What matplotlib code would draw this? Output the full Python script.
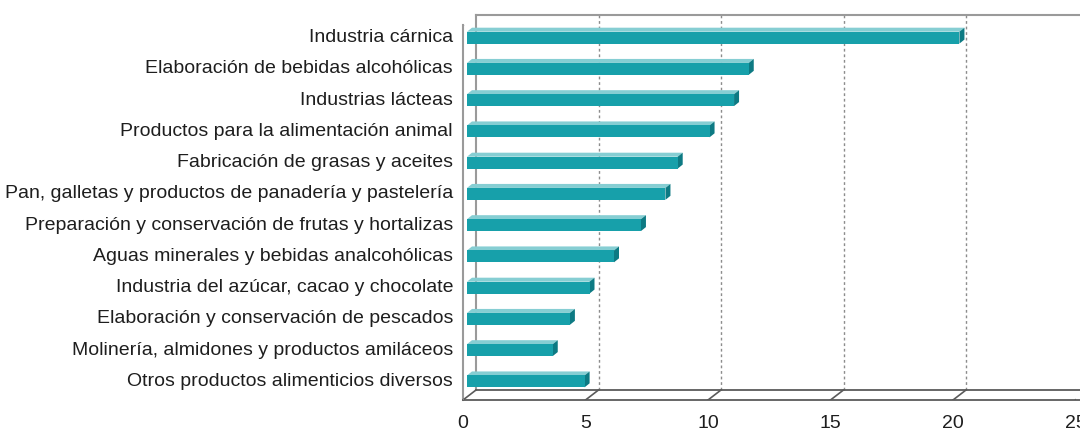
import matplotlib
matplotlib.use("Agg")
import matplotlib.pyplot as plt
from matplotlib.patches import Polygon
from matplotlib.transforms import offset_copy

plt.rcParams["font.family"] = ["Liberation Sans", "DejaVu Sans"]

# categories, top to bottom
categories = [
    "Industria cárnica",
    "Elaboración de bebidas alcohólicas",
    "Industrias lácteas",
    "Productos para la alimentación animal",
    "Fabricación de grasas y aceites",
    "Pan, galletas y productos de panadería y pastelería",
    "Preparación y conservación de frutas y hortalizas",
    "Aguas minerales y bebidas analcohólicas",
    "Industria del azúcar, cacao y chocolate",
    "Elaboración y conservación de pescados",
    "Molinería, almidones y productos amiláceos",
    "Otros productos alimenticios diversos",
]
values = [20.1, 11.5, 10.9, 9.9, 8.6, 8.1, 7.1, 6.0, 5.0, 4.2, 3.5, 4.8]
xticks = [0, 5, 10, 15, 20, 25]

# pseudo 3d depth, in pixels
WALL_DX, WALL_DY = 13, 10
BAR_DX, BAR_DY = 4, 3
BAR_DEPTH_DX, BAR_DEPTH_DY = 5, 4
BAR_H = 0.38

FACE = "#17a0aa"
TOP = "#86ced3"
END = "#0d7a83"
WALL = "#9a9a9a"
BASE = "#5a5a5a"
TXT = "#1e1e1e"

fig = plt.figure(figsize=(10.8, 4.32), dpi=100)
ax = fig.add_axes([463 / 1080, 32 / 432, 612.5 / 1080, 375 / 432])
n = len(categories)
ax.set_xlim(0, 25)
ax.set_ylim(n - 0.5, -0.5)
ax.axis("off")

back = offset_copy(ax.transData, fig=fig, x=WALL_DX, y=WALL_DY, units="dots")
ylo, yhi = n - 0.5, -0.5

# back wall: gridlines, left edge, top, floor back line
for t in xticks[1:]:
    ax.plot([t, t], [ylo, yhi], transform=back, color="#8c8c8c", lw=1,
            ls=(0, (2, 2)), clip_on=False)
ax.plot([0, 0], [ylo, yhi], transform=back, color=WALL, lw=1.5, clip_on=False)
ax.plot([0, 26], [yhi, yhi], transform=back, color=WALL, lw=1.5, clip_on=False)
ax.plot([0, 26], [ylo, ylo], transform=back, color=BASE, lw=1.3, clip_on=False)

# front: left axis line and floor front line
ax.plot([0, 0], [ylo, yhi], color=WALL, lw=1.5, clip_on=False)
ax.plot([0, 26], [ylo, ylo], color=BASE, lw=1.3, clip_on=False)

tr = ax.transData
def px(x, y, dx=0, dy=0):
    p = tr.transform((x, y))
    return (p[0] + dx, p[1] + dy)

# diagonal connectors, x ticks and labels
for t in xticks:
    a = px(t, ylo)
    b = px(t, ylo, WALL_DX, WALL_DY)
    ax.add_line(plt.Line2D([a[0], b[0]], [a[1], b[1]], transform=None,
                           color=BASE, lw=1.2))
    c = px(t, ylo, 0, -7)
    ax.add_line(plt.Line2D([a[0], c[0]], [a[1], c[1]], transform=None,
                           color=BASE, lw=1.2))
    ax.text(t, ylo, str(t), transform=offset_copy(tr, fig=fig, y=-23, units="dots"),
            ha="center", va="center", fontsize=14, color=TXT, clip_on=False)
a = px(0, yhi)
b = px(0, yhi, WALL_DX, WALL_DY)
ax.add_line(plt.Line2D([a[0], b[0]], [a[1], b[1]], transform=None, color=WALL, lw=1.5))

# category boundary ticks on left axis
for k in range(n + 1):
    a = px(0, k - 0.5)
    ax.add_line(plt.Line2D([a[0] - 5, a[0]], [a[1], a[1]], transform=None,
                           color=WALL, lw=1.2))

# bars
for i, (cat, v) in enumerate(zip(categories, values)):
    y0, y1 = i + BAR_H / 2, i - BAR_H / 2
    f0 = px(0, y0, BAR_DX, BAR_DY)
    f1 = px(v, y0, BAR_DX, BAR_DY)
    f2 = px(v, y1, BAR_DX, BAR_DY)
    f3 = px(0, y1, BAR_DX, BAR_DY)
    ddx, ddy = BAR_DEPTH_DX, BAR_DEPTH_DY
    top = [f3, f2, (f2[0] + ddx, f2[1] + ddy), (f3[0] + ddx, f3[1] + ddy)]
    end = [f1, f2, (f2[0] + ddx, f2[1] + ddy), (f1[0] + ddx, f1[1] + ddy)]
    fig.patches.append(Polygon(top, closed=True, transform=None, fc=TOP, ec="none"))
    fig.patches.append(Polygon(end, closed=True, transform=None, fc=END, ec="none"))
    fig.patches.append(Polygon([f0, f1, f2, f3], closed=True, transform=None,
                               fc=FACE, ec="none"))
    ax.text(0, i, cat, transform=offset_copy(tr, fig=fig, x=-10, y=3, units="dots"),
            ha="right", va="center", fontsize=14, color=TXT, clip_on=False)

fig.savefig("out.png", dpi=100)
